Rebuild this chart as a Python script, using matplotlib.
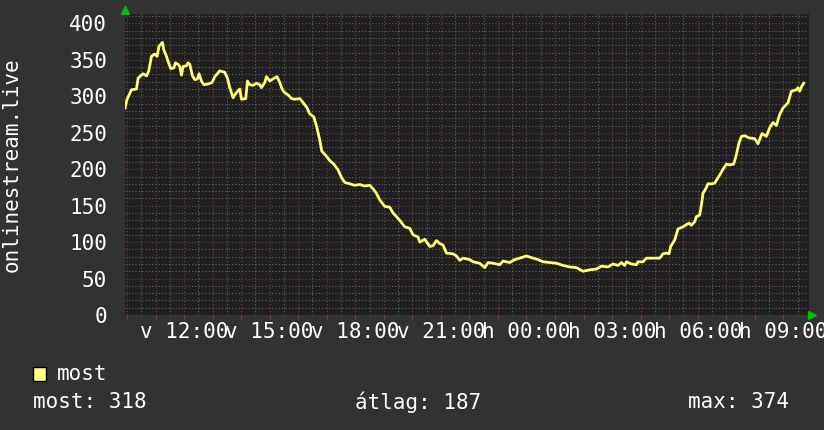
import matplotlib
matplotlib.use("Agg")
import matplotlib.pyplot as plt
from matplotlib.patches import Rectangle

# idő (óra, vasárnap 00:00-tól) és érték
hours = [9.933, 10.003, 10.157, 10.332, 10.388, 10.563, 10.683, 10.763, 10.858, 10.973,
         11.054, 11.124, 11.243, 11.289, 11.383, 11.439, 11.534, 11.639, 11.699, 11.790,
         11.849, 11.909, 11.965, 12.084, 12.140, 12.200, 12.294, 12.375, 12.470, 12.526,
         12.610, 12.690, 12.841, 12.981, 13.076, 13.251, 13.426, 13.521, 13.601, 13.717,
         13.776, 13.857, 13.952, 14.011, 14.162, 14.221, 14.302, 14.418, 14.537, 14.652,
         14.712, 14.828, 14.887, 15.003, 15.118, 15.259, 15.353, 15.448, 15.528, 15.644,
         15.763, 15.879, 16.054, 16.159, 16.299, 16.404, 16.544, 16.650, 16.755, 16.825,
         16.965, 17.105, 17.245, 17.385, 17.526, 17.631, 17.806, 17.981, 18.156, 18.331,
         18.507, 18.647, 18.752, 18.857, 19.032, 19.207, 19.323, 19.558, 19.733, 19.908,
         20.024, 20.199, 20.259, 20.434, 20.609, 20.725, 20.844, 20.959, 21.075, 21.194,
         21.425, 21.545, 21.660, 21.776, 22.011, 22.126, 22.361, 22.536, 22.652, 22.827,
         23.062, 23.177, 23.412, 23.587, 23.762, 23.997, 24.228, 24.404, 24.579, 24.814,
         25.048, 25.280, 25.514, 25.749, 25.980, 26.215, 26.450, 26.625, 26.856, 27.032,
         27.207, 27.326, 27.441, 27.501, 27.676, 27.851, 27.907, 28.083, 28.202, 28.318,
         28.493, 28.668, 28.783, 28.903, 28.994, 29.053, 29.194, 29.309, 29.484, 29.603,
         29.694, 29.778, 29.894, 29.954, 30.069, 30.129, 30.185, 30.279, 30.360, 30.514,
         30.595, 30.676, 30.770, 30.886, 31.005, 31.121, 31.261, 31.355, 31.446, 31.531,
         31.646, 31.797, 31.997, 32.112, 32.252, 32.406, 32.522, 32.638, 32.757, 32.872,
         32.988, 33.163, 33.282, 33.457, 33.513, 33.573, 33.634, 33.714]
values = [284, 296, 309, 310, 325, 331, 328, 335, 355, 358,
          355, 369, 374, 364, 355, 348, 338, 339, 346, 344,
          341, 329, 341, 342, 346, 344, 328, 323, 324, 331,
          321, 316, 317, 319, 327, 335, 333, 325, 312, 298,
          302, 306, 310, 296, 297, 321, 316, 315, 318, 316,
          312, 319, 327, 321, 324, 327, 319, 309, 305, 302,
          297, 296, 297, 292, 285, 276, 272, 258, 240, 225,
          219, 212, 207, 200, 188, 182, 180, 178, 179, 177,
          178, 172, 166, 158, 149, 148, 140, 130, 121, 119,
          110, 107, 100, 104, 94, 95, 102, 98, 96, 85,
          84, 81, 75, 78, 76, 73, 71, 65, 72, 71,
          69, 74, 72, 76, 78, 81, 78, 76, 73, 72,
          71, 68, 66, 65, 60, 62, 63, 67, 66, 70,
          68, 72, 68, 73, 70, 69, 73, 73, 78, 78,
          78, 78, 84, 85, 84, 94, 103, 118, 121, 124,
          126, 123, 128, 135, 137, 151, 167, 173, 180, 180,
          181, 186, 192, 200, 207, 206, 207, 220, 236, 245,
          246, 243, 242, 235, 249, 245, 257, 264, 260, 275,
          284, 291, 307, 309, 312, 307, 313, 318]

hour_ticks = list(range(10, 34))
tick_labels = {12: 'v 12:00', 15: 'v 15:00', 18: 'v 18:00', 21: 'v 21:00',
               24: 'h 00:00', 27: 'h 03:00', 30: 'h 06:00', 33: 'h 09:00'}
half_hours = [h + 0.5 for h in range(10, 34)]
y_major = list(range(0, 401, 50))
y_minor = [v for v in range(0, 411, 10) if v % 50 != 0]

series_name = 'most'
stat_labels = ['most: 318', 'átlag: 187', 'max: 374']

BG = '#323232'
CANVAS = '#1f1f1f'
GRID_MINOR = '#666666'
GRID_MAJOR = '#8a3c3c'
LINE = '#ffff70'
TXT = 'white'
FONT = 'DejaVu Sans Mono'
FS = 15

W, H = 824, 430
fig = plt.figure(figsize=(W / 100, H / 100), dpi=100, facecolor=BG)
left, right, top, bottom = 125, 809, 14, 315
ax = fig.add_axes([left / W, 1 - bottom / H, (right - left) / W, (bottom - top) / H])
ax.set_facecolor(CANVAS)

ax.plot(hours, values, color=LINE, lw=2, zorder=3)

ax.set_xticks(hour_ticks)
ax.set_xticklabels([tick_labels.get(h, '') for h in hour_ticks])
ax.set_xticks(half_hours, minor=True)
ax.set_yticks(y_major)
ax.set_yticks(y_minor, minor=True)

# a tengelyhatárokat a tickek után kell beállítani
ax.set_xlim(9.93, 33.9)
ax.set_ylim(0, 413)

ax.grid(which='minor', color=GRID_MINOR, lw=0.8, ls=(0, (1, 2)), zorder=1)
ax.grid(which='major', color=GRID_MAJOR, lw=0.8, ls=(0, (1, 2)), zorder=1)
ax.set_axisbelow(True)

ax.tick_params(axis='x', which='major', length=3, color=GRID_MAJOR, pad=2,
               labelsize=FS, labelcolor=TXT)
ax.tick_params(axis='x', which='minor', length=0)
ax.tick_params(axis='y', which='both', length=0, pad=13, labelsize=FS, labelcolor=TXT)
for lab in ax.get_xticklabels() + ax.get_yticklabels():
    lab.set_fontfamily(FONT)
for s in ax.spines.values():
    s.set_visible(False)

# y tengely felirat
fig.text(12 / W, 1 - 165 / H, 'onlinestream.live', rotation=90, ha='center', va='center',
         color=TXT, fontsize=FS, family=FONT)

# zöld nyilak
fig.lines.append(plt.Line2D([125 / W], [1 - 10 / H], marker='^', color='#00c000',
                            markersize=6, transform=fig.transFigure, figure=fig))
fig.lines.append(plt.Line2D([812 / W], [1 - 315 / H], marker='>', color='#00c000',
                            markersize=6, transform=fig.transFigure, figure=fig))

# jelmagyarázat
fig.patches.append(Rectangle((33 / W, 1 - 381 / H), 13 / W, 14 / H, facecolor='#ffff80',
                             edgecolor='black', lw=1, transform=fig.transFigure, figure=fig))
fig.text(57 / W, 1 - 374 / H, series_name, ha='left', va='center', color=TXT,
         fontsize=FS, family=FONT)
for xpos, txt in zip([33, 355, 688], stat_labels):
    fig.text(xpos / W, 1 - 402 / H, txt, ha='left', va='center', color=TXT,
             fontsize=FS, family=FONT)

fig.savefig('out.png', dpi=100, facecolor=BG)
